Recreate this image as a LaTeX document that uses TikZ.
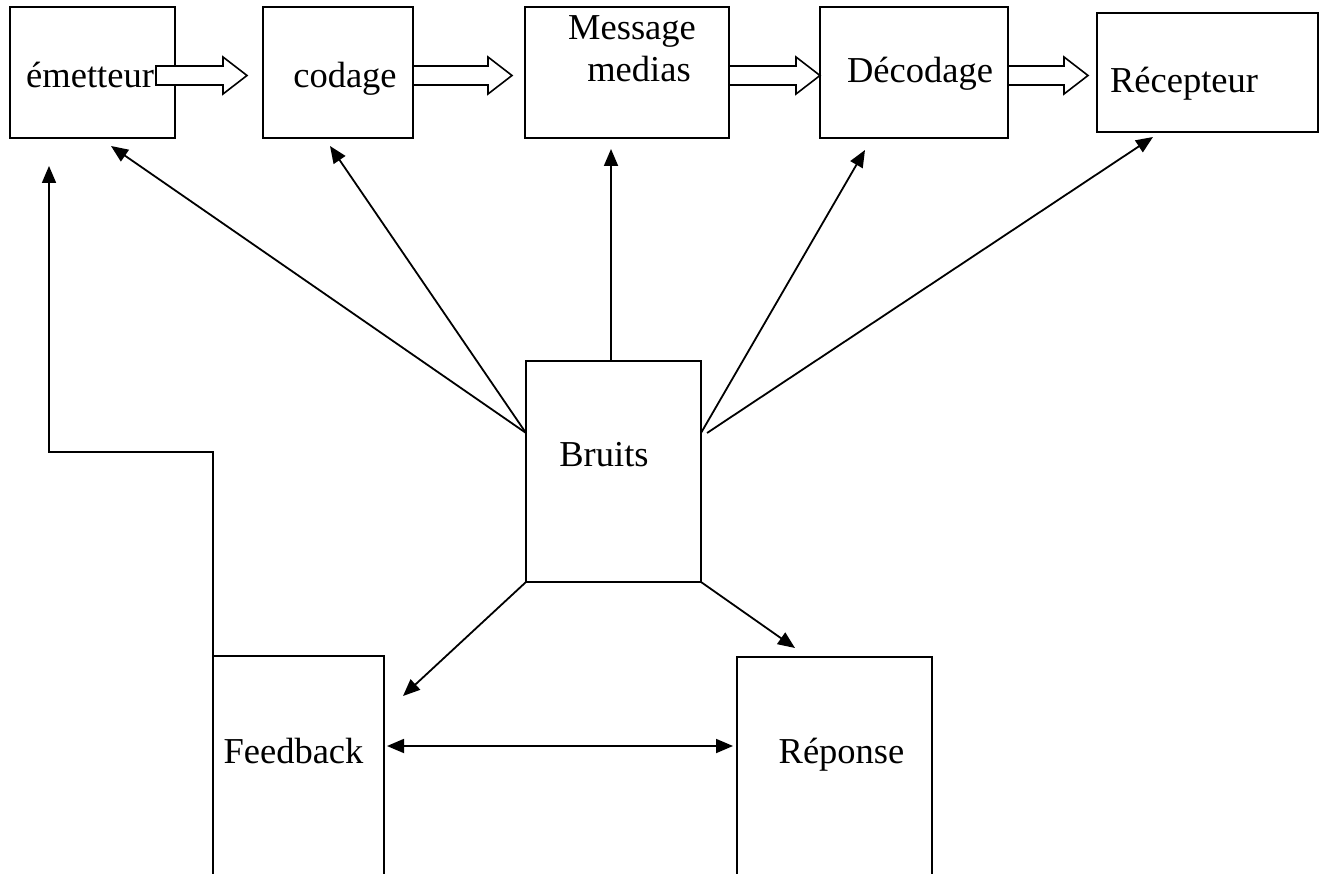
\documentclass[tikz,border=0pt]{standalone}
\usepackage{fontspec}
\setmainfont{Liberation Serif}
\usetikzlibrary{arrows.meta,calc}
\newcommand\hollowarr[2]{\draw[hol] let \p1=(#1), \p2=(#2) in
  (\x1,\y1+9.5pt) -- (\x2-24pt,\y1+9.5pt) -- (\x2-24pt,\y1+18.5pt) -- (\x2,\y1)
  -- (\x2-24pt,\y1-18.5pt) -- (\x2-24pt,\y1-9.5pt) -- (\x1,\y1-9.5pt) -- cycle;}
\begin{document}
\begin{tikzpicture}[x=1pt,y=-1pt,
  box/.style={draw,line width=2pt,inner sep=0pt,outer sep=0pt},
  lbl/.style={font=\fontsize{36.5}{40}\selectfont,inner sep=0pt,anchor=base},
  tip/.style={},
  arr/.style={line width=1.8pt,-{Triangle[length=17pt,width=14pt]}},
  darr/.style={line width=1.8pt,{Triangle[length=17pt,width=14pt]}-{Triangle[length=17pt,width=14pt]}},
  hol/.style={draw,line width=1.6pt,fill=white}]
\useasboundingbox (0,0) rectangle (1326,874);
\fill[white] (0,0) rectangle (1326,874);
\clip (0,0) rectangle (1326,874);
% boxes
\node[box,minimum width=165pt,minimum height=131pt] (em)  at (92.5,72.5) {};
\node[box,minimum width=150pt,minimum height=131pt] (cod) at (338,72.5) {};
\node[box,minimum width=204pt,minimum height=131pt] (msg) at (627,72.5) {};
\node[box,minimum width=188pt,minimum height=131pt] (dec) at (914,72.5) {};
\node[box,minimum width=221pt,minimum height=119pt] (rec) at (1207.5,72.5) {};
\node[box,minimum width=175pt,minimum height=221pt] (br)  at (613.5,471.5) {};
\node[box,minimum width=171pt,minimum height=244pt] (fb)  at (298.5,778) {};
\node[box,minimum width=195pt,minimum height=243pt] (rp)  at (834.5,778.5) {};
% labels
\node[lbl,anchor=base west] (tem) at (26,88) {émetteur};
\node[lbl] (tcod) at (345,88) {codage};
\node[lbl] (tmsg1) at (632,40) {Message};
\node[lbl] (tmsg2) at (639,82) {medias};
\node[lbl] (tdec) at (920,83) {Décodage};
\node[lbl] (trec) at (1184,93) {Récepteur};
\node[lbl] (tbr) at (604,467) {Bruits};
\node[lbl] (tfb) at (293.5,763) {Feedback};
\node[lbl] (trp) at (841.5,763) {Réponse};
% hollow arrows
\hollowarr{$(em.east)+(-19,3)$}{$(cod.west)+(-16,3)$}
\hollowarr{$(cod.east)+(0,3)$}{$(msg.west)+(-13,3)$}
\hollowarr{$(msg.east)+(0,3)$}{$(dec.west)+(0,3)$}
\hollowarr{$(dec.east)+(0,3)$}{$(rec.west)+(-9,3)$}
% noise arrows
\draw[arr] ($(br.north west)+(0,72)$) -- ($(em.south)+(18.5,8)$);
\draw[arr] ($(br.north west)+(0,72)$) -- ($(cod.south)+(-8,8)$);
\draw[arr] ($(br.north)+(-2.5,0)$) -- ($(msg.south)+(-16,11)$);
\draw[arr] ($(br.north east)+(0,72)$) -- ($(dec.south)+(-49,12)$);
\draw[arr] ($(br.north east)+(6,72)$) -- ($(rec.south)+(-54.5,5)$);
\draw[arr] (br.south west) -- ($(fb.north east)+(19,40)$);
\draw[arr] (br.south east) -- ($(rp.north west)+(58,-9)$);
% feedback / response
\draw[darr] ($(fb.north east)+(3,90)$) -- ($(rp.north west)+(-4,89)$);
\draw[arr] ($(fb.north west)+(0,84)$) -- ($(fb.north west)+(0,-204)$) -- ++(-164,0) -- ($(em.south)+(-43.5,28)$);
\end{tikzpicture}
\end{document}
